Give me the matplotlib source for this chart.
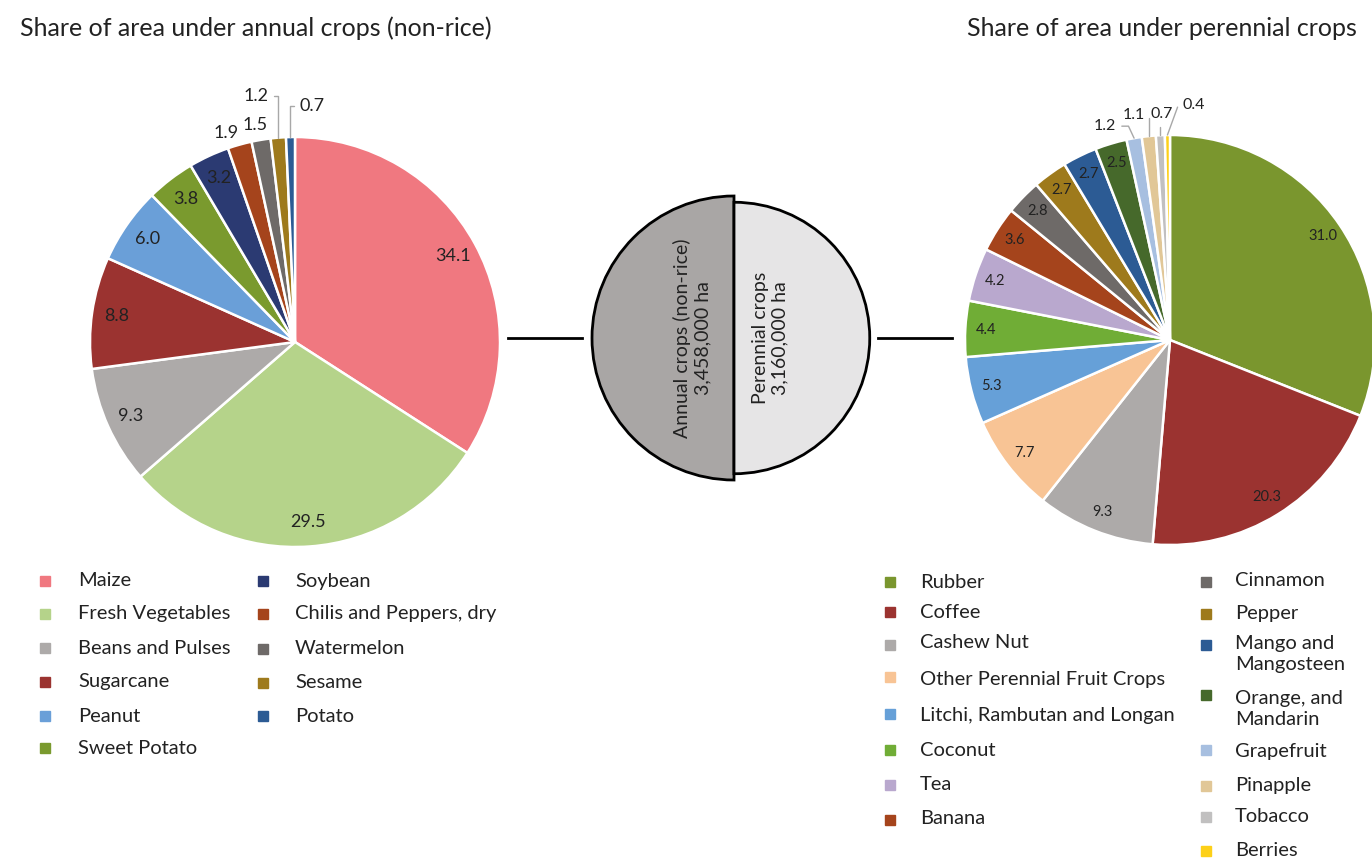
import numpy as np
import matplotlib.pyplot as plt
from matplotlib.patches import Wedge

plt.rcParams['font.family'] = ['Lato', 'DejaVu Sans']

W, H = 1372, 861

# data
annual_crops = ['Maize', 'Fresh Vegetables', 'Beans and Pulses', 'Sugarcane', 'Peanut',
                'Sweet Potato', 'Soybean', 'Chilis and Peppers, dry', 'Watermelon',
                'Sesame', 'Potato']
annual_share = [34.1, 29.5, 9.3, 8.8, 6.0, 3.8, 3.2, 1.9, 1.5, 1.2, 0.7]
annual_colors = ['#f07880', '#b5d38a', '#adaaa9', '#9b3330', '#6a9fd8', '#7a9a2e',
                 '#2b3a72', '#a5441c', '#6e6a68', '#9e7a1c', '#2c5b94']

perennial_crops = ['Rubber', 'Coffee', 'Cashew Nut', 'Other Perennial Fruit Crops',
                   'Litchi, Rambutan and Longan', 'Coconut', 'Tea', 'Banana',
                   'Cinnamon', 'Pepper', 'Mango and\nMangosteen', 'Orange, and\nMandarin',
                   'Grapefruit', 'Pinapple', 'Tobacco', 'Berries']
perennial_share = [31.0, 20.3, 9.3, 7.7, 5.3, 4.4, 4.2, 3.6, 2.8, 2.7, 2.7, 2.5,
                   1.2, 1.1, 0.7, 0.4]
perennial_colors = ['#7a962e', '#9b3330', '#adaaa9', '#f8c495', '#66a0d8', '#70ad36',
                    '#b9a8ce', '#a5441c', '#6e6a68', '#9e7a1c', '#2c5b94', '#46692b',
                    '#a7bfe0', '#e1c797', '#c1c0c0', '#fdd018']

total_labels = ['Annual crops (non-rice)', 'Perennial crops']
total_area = [3458000, 3160000]
total_colors = ['#a9a6a5', '#e6e5e6']

fig = plt.figure(figsize=(W / 100, H / 100), dpi=100)
ax = fig.add_axes([0, 0, 1, 1])


def y(py):
    return H - py


def draw_pie(values, colors, cx, cy, r, fs, out_fs, inner_r, callouts):
    wedges, _ = ax.pie(values, colors=colors, center=(cx, y(cy)), radius=r,
                       startangle=90, counterclock=False,
                       wedgeprops=dict(edgecolor='white', linewidth=1.8))
    for i, w in enumerate(wedges):
        mid = np.deg2rad((w.theta1 + w.theta2) / 2)
        ex, ey = cx + r * np.cos(mid), y(cy) + r * np.sin(mid)
        txt = f'{values[i]:.1f}'
        if i in callouts:
            dx, dy, angle_b = callouts[i]
            if angle_b is not None:
                ax.annotate(txt, xy=(ex, ey), xytext=(ex + dx, ey + dy), ha='center',
                            va='center', fontsize=out_fs, color='#222222',
                            arrowprops=dict(arrowstyle='-', color='#a8a8a8', lw=1,
                                            shrinkA=2, shrinkB=0,
                                            connectionstyle=f'angle,angleA=0,angleB={angle_b},rad=0'))
            else:
                ax.text(ex + dx, ey + dy, txt, ha='center', va='center', fontsize=out_fs,
                        color='#222222')
        else:
            ax.text(cx + inner_r * r * np.cos(mid), y(cy) + inner_r * r * np.sin(mid), txt,
                    ha='center', va='center', fontsize=fs, color='#222222')


# left pie: annual crops
draw_pie(annual_share, annual_colors, 295, 342, 205, 13, 13, 0.88,
         {7: (-14, 12, None), 8: (-6, 15, None), 9: (-22, 42, 90), 10: (22, 31, 90)})

# right pie: perennial crops
draw_pie(perennial_share, perennial_colors, 1170, 340, 205, 10.5, 11.5, 0.9,
         {12: (-29, 12, 115), 13: (-15, 21, 90), 14: (1, 21, 90), 15: (26, 30, 70)})

# middle: total area as two half discs
mcx, mcy = 734, 338
rmax = 142
radii = [rmax * np.sqrt(v / max(total_area)) for v in total_area]
ax.add_patch(Wedge((mcx, y(mcy)), radii[0], 90, 270, facecolor=total_colors[0],
                   edgecolor='black', linewidth=2))
ax.add_patch(Wedge((mcx, y(mcy)), radii[1], -90, 90, facecolor=total_colors[1],
                   edgecolor='black', linewidth=2))
ax.text(692, y(mcy), f'{total_labels[0]}\n{total_area[0]:,} ha', rotation=90,
        ha='center', va='center', fontsize=14, color='#222222', linespacing=1.2)
ax.text(770, y(mcy), f'{total_labels[1]}\n{total_area[1]:,} ha', rotation=90,
        ha='center', va='center', fontsize=14, color='#222222', linespacing=1.2)
ax.plot([508, 582], [y(mcy), y(mcy)], color='black', lw=2)
ax.plot([878, 952], [y(mcy), y(mcy)], color='black', lw=2)

# titles
ax.text(20, y(28), 'Share of area under annual crops (non-rice)', fontsize=18,
        ha='left', va='center', color='#222222')
ax.text(1357, y(28), 'Share of area under perennial crops', fontsize=18,
        ha='right', va='center', color='#222222')


# legends
def legend_item(mx, tx, ty, my, label, color):
    ax.plot([mx], [y(my)], marker='s', markersize=7, color=color, linestyle='none')
    ax.text(tx, y(ty), label, fontsize=14.5, ha='left', va='center', color='#222222',
            linespacing=1.25)


left_rows = [581, 614, 648, 682, 716, 748, 581, 614, 649, 683, 716]
for i, (lab, col) in enumerate(zip(annual_crops, annual_colors)):
    if i < 6:
        legend_item(45, 78, left_rows[i], left_rows[i], lab, col)
    else:
        legend_item(263, 295, left_rows[i], left_rows[i], lab, col)

right_text_rows = [582, 612, 643, 679, 716, 750, 785, 819,
                   580, 613, 654, 709, 751, 785, 816, 851]
right_marker_rows = [582, 612, 645, 677, 714, 750, 785, 820,
                     582, 614, 645, 695, 750, 786, 817, 851]
for i, (lab, col) in enumerate(zip(perennial_crops, perennial_colors)):
    if i < 8:
        legend_item(890, 920, right_text_rows[i], right_marker_rows[i], lab, col)
    else:
        legend_item(1206, 1235, right_text_rows[i], right_marker_rows[i], lab, col)

ax.set_xlim(0, W)
ax.set_ylim(0, H)
ax.set_aspect('equal')
ax.axis('off')

fig.savefig('out.png', dpi=100, facecolor='white')
